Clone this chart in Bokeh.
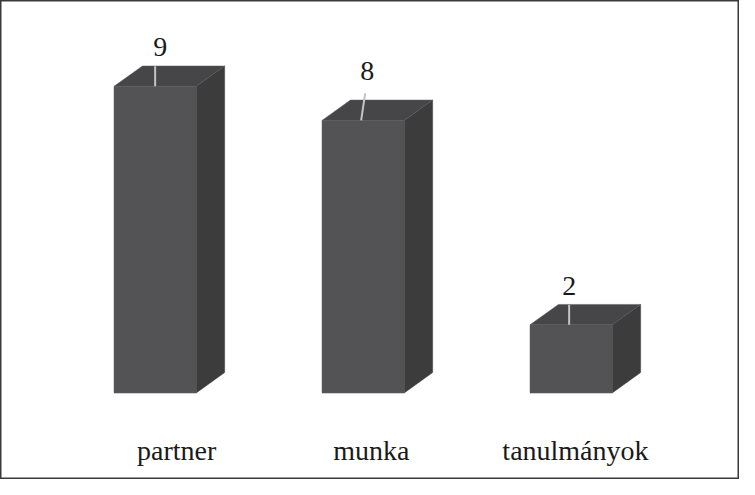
from bokeh.plotting import figure
from bokeh.models import ColumnDataSource, Range1d
from bokeh.core.properties import value
from bokeh.embed import file_html
from bokeh.resources import INLINE

# ---- data ----
categories = ["partner", "munka", "tanulmányok"]
counts = [9, 8, 2]
value_labels = ["9", "8", "2"]

# ---- layout constants (pixels) ----
W, H = 739, 479
SX, SY = 739 / 755, 479 / 495
PX_X = 212.5 * SX         # pixels per category step
PX_Y = 35.2 * SY          # pixels per count unit
X0_PX = 158 * SX          # pixel position of first category centre
BASE_PX = H - 405.5 * SY  # pixel height of baseline above frame bottom
HALF_W = 42 * SX / PX_X   # half width of front face
DX = 29 * SX / PX_X       # depth offset x
DY = 21 * SY / PX_Y       # depth offset y

x_start = -X0_PX / PX_X
y_start = -BASE_PX / PX_Y

p = figure(width=W, height=H, output_backend="svg", toolbar_location=None,
           x_range=Range1d(x_start, x_start + W / PX_X),
           y_range=Range1d(y_start, y_start + H / PX_Y),
           min_border=0, tools="")
p.axis.visible = False
p.grid.visible = False
p.background_fill_color = "white"
p.border_fill_color = "white"
p.outline_line_color = "#3a3a3a"
p.outline_line_width = 2

xs_front, ys_front, xs_side, ys_side, xs_top, ys_top = [], [], [], [], [], []
for i, v in enumerate(counts):
    l, r = i - HALF_W, i + HALF_W
    xs_front.append([l, r, r, l]); ys_front.append([0, 0, v, v])
    xs_side.append([r, r + DX, r + DX, r]); ys_side.append([0, DY, v + DY, v])
    xs_top.append([l, l + DX, r + DX, r]); ys_top.append([v, v + DY, v + DY, v])

p.patches(xs_side, ys_side, fill_color="#3c3c3d", line_color="#3c3c3d", line_width=0.5)
p.patches(xs_top, ys_top, fill_color="#464648", line_color="#5a5a5c", line_width=0.5)
p.patches(xs_front, ys_front, fill_color="#535355", line_color="#535355", line_width=0.5)

# thin light edge under front faces
n = len(counts)
p.segment(x0=[i - HALF_W for i in range(n)], x1=[i + HALF_W for i in range(n)],
          y0=[-0.6 / PX_Y] * n, y1=[-0.6 / PX_Y] * n,
          line_color="#d0d0d0", line_width=1)

# leader lines (pixel offsets: bottom dx, top dx, top dy above front top)
lead_bottom_dx = [0, -2, -2]
lead_top_dx = [0, 2, -2]
lead_top_dy = [20, 27, 20]
p.segment(x0=[i + lead_bottom_dx[i] / PX_X for i in range(n)],
          y0=[v for v in counts],
          x1=[i + lead_top_dx[i] / PX_X for i in range(n)],
          y1=[v + lead_top_dy[i] / PX_Y for i, v in enumerate(counts)],
          line_color="#c4c4c4", line_width=2)

# value labels
lab_dx = [5, 4, -2]
lab_dy = [39, 49, 39]
vsrc = ColumnDataSource(dict(
    x=[i + lab_dx[i] / PX_X for i in range(n)],
    y=[v + lab_dy[i] / PX_Y for i, v in enumerate(counts)],
    t=value_labels))
p.text(x="x", y="y", text="t", source=vsrc, text_font=value("Liberation Serif"),
       text_font_size="28px", text_color="#1a1a1a", text_align="center",
       text_baseline="alphabetic")

# category labels
cat_dx = [21.5, 8.3, 4.3]
csrc = ColumnDataSource(dict(
    x=[i + cat_dx[i] / PX_X for i in range(len(categories))],
    y=[-57.6 / PX_Y] * len(categories),
    t=categories))
p.text(x="x", y="y", text="t", source=csrc, text_font=value("Liberation Serif"),
       text_font_size="28px", text_color="#1a1a1a", text_align="center",
       text_baseline="alphabetic")

open("out.html", "w").write(file_html(p, INLINE))
